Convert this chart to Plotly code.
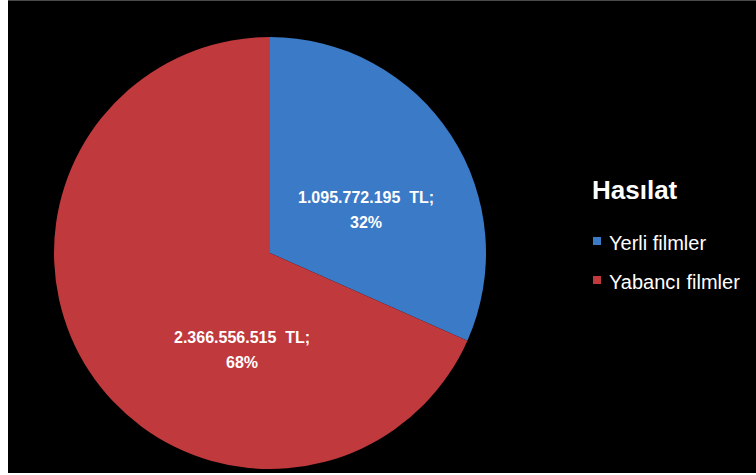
import plotly.graph_objects as go

# Box office revenue by film origin
categories = ["Yerli filmler", "Yabancı filmler"]
revenue_tl = [1095772195, 2366556515]
colors = ["#3b7ac6", "#c0393c"]
legend_title = "Hasılat"

W, H = 756, 475
ML, MR, MT, MB = 8, 0, 1, 2
PW, PH = W - ML - MR, H - MT - MB


def px(x):
    return (x - ML) / PW


def py(y):
    return (H - MB - y) / PH


def tr_thousands(v):
    return f"{v:,}".replace(",", ".")


total = sum(revenue_tl)
shares = [v / total * 100 for v in revenue_tl]
amount_lines = [f"{tr_thousands(v)} \u00a0TL;" for v in revenue_tl]
share_lines = [f"{round(s)}%" for s in shares]

# pie centre (270, 253), radius 216 px
cx, cy, r = 270, 253, 216

fig = go.Figure(
    go.Pie(
        labels=categories,
        values=revenue_tl,
        sort=False,
        direction="clockwise",
        rotation=0,
        marker=dict(colors=colors, line=dict(width=0)),
        textinfo="none",
        hoverinfo="label+value+percent",
        domain=dict(x=[px(cx - r), px(cx + r)], y=[py(cy + r), py(cy - r)]),
        showlegend=False,
    )
)

label_font = dict(family="Liberation Sans Narrow, Liberation Sans, sans-serif",
                  size=16, color="#ffffff")
label_pos = [(366, 197), (242, 337)]
line_gap = 25
annotations = []
for l1, l2, (lx, ly) in zip(amount_lines, share_lines, label_pos):
    for k, txt in enumerate((l1, l2)):
        annotations.append(dict(
            x=px(lx), y=py(ly + k * line_gap), xref="paper", yref="paper",
            text=f"<b>{txt}</b>", showarrow=False,
            xanchor="center", yanchor="middle", align="center",
            font=label_font,
        ))

# legend block
annotations.append(dict(
    x=px(590), y=py(190), xref="paper", yref="paper", text=f"<b>{legend_title}</b>",
    showarrow=False, xanchor="left", yanchor="middle",
    font=dict(family="Liberation Sans, sans-serif", size=26, color="#ffffff"),
))
shapes = [
    dict(type="rect", xref="paper", yref="paper", x0=0, x1=1, y0=0, y1=1,
         fillcolor="#000000", line=dict(width=0), layer="below"),
    dict(type="rect", xref="paper", yref="paper", x0=0, x1=1, y0=1, y1=1 + 1 / PH,
         fillcolor="#4a4a4a", line=dict(width=0), layer="below"),
]
item_y = [241, 280]
for name, col, iy in zip(categories, colors, item_y):
    shapes.append(dict(
        type="rect", xref="paper", yref="paper",
        x0=px(593), x1=px(601), y0=py(iy + 4), y1=py(iy - 4),
        fillcolor=col, line=dict(width=0),
    ))
    annotations.append(dict(
        x=px(607), y=py(iy + 2), xref="paper", yref="paper", text=name,
        showarrow=False, xanchor="left", yanchor="middle",
        font=dict(family="Liberation Sans, sans-serif", size=20, color="#ffffff"),
    ))

fig.update_layout(
    width=W, height=H,
    margin=dict(l=ML, r=MR, t=MT, b=MB),
    paper_bgcolor="#ffffff",
    plot_bgcolor="#000000",
    shapes=shapes,
    annotations=annotations,
)

fig.write_html("out.html")
